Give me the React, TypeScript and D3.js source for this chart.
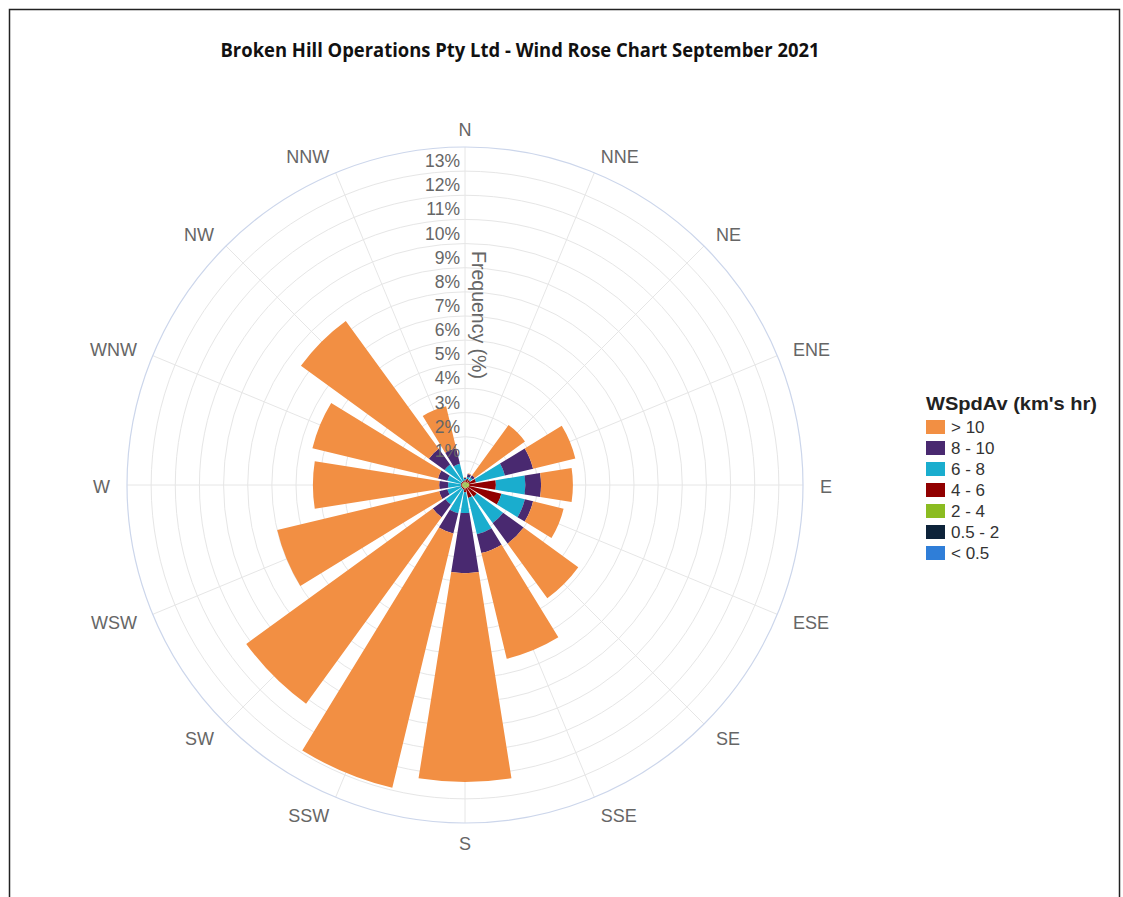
import React from 'react';
import * as d3 from 'd3';

// --- data (frequency %) ---
const directions = ['N', 'NNE', 'NE', 'ENE', 'E', 'ESE', 'SE', 'SSE', 'S', 'SSW', 'SW', 'WSW', 'W', 'WNW', 'NW', 'NNW'];
const speedBins = ['< 0.5', '0.5 - 2', '2 - 4', '4 - 6', '6 - 8', '8 - 10', '> 10'];
const binColors = ['#2f7ed8', '#0d233a', '#8bbc21', '#910000', '#1aadce', '#492970', '#f28f43'];

const lessThan05 = [0, 0, 0, 0, 0, 0, 0, 0, 0, 0, 0, 0, 0, 0, 0, 0];
const from05to2 = [0.02, 0.02, 0.02, 0.02, 0.02, 0.02, 0.02, 0.02, 0.02, 0.02, 0.02, 0.02, 0.02, 0.02, 0.02, 0.02];
const from2to4 = [0.1, 0.1, 0.12, 0.15, 0.15, 0.15, 0.12, 0.12, 0.12, 0.1, 0.1, 0.1, 0.1, 0.1, 0.1, 0.1];
const from4to6 = [0.08, 0.15, 0.12, 0.3, 1.11, 1.38, 0.46, 0.41, 0.16, 0.08, 0.05, 0.05, 0.05, 0.05, 0.05, 0.05];
const from6to8 = [0.05, 0.08, 0.12, 1.23, 1.22, 1.0, 1.35, 1.55, 0.86, 1.0, 0.83, 0.58, 0.53, 0.58, 0.88, 0.73];
const from8to10 = [0.05, 0.12, 0.12, 1.2, 0.65, 0.35, 1.05, 0.8, 2.49, 0.87, 0.65, 0.35, 0.37, 0.4, 0.8, 0.67];
const over10 = [0.02, 0.03, 2.57, 1.8, 1.32, 1.3, 2.8, 4.5, 8.65, 10.83, 9.55, 6.9, 5.23, 5.35, 6.55, 1.78];

const freqTicks = [1, 2, 3, 4, 5, 6, 7, 8, 9, 10, 11, 12, 13];

const title = 'Broken Hill Operations Pty Ltd - Wind Rose Chart September 2021';
const legendTitle = "WSpdAv (km's hr)";

const W = 1123;
const H = 897;
const cx = 465;
const cy = 485;
const outerR = 338;
const maxFreq = 14;
const font = '"Liberation Sans", Arial, sans-serif';

const App: React.FC = () => {
	const seriesArrays = [lessThan05, from05to2, from2to4, from4to6, from6to8, from8to10, over10];
	const rows = directions.map((dir, i) => {
		const row: Record<string, number | string> = { dir };
		speedBins.forEach((bin, j) => {
			row[bin] = seriesArrays[j][i];
		});
		return row;
	});

	const stacked = d3.stack<Record<string, number | string>>().keys(speedBins)(rows as any);

	const r = d3.scaleLinear().domain([0, maxFreq]).range([0, outerR]);
	const angle = d3
		.scaleBand<string>()
		.domain(directions)
		.range([-Math.PI / directions.length, 2 * Math.PI - Math.PI / directions.length])
		.paddingInner(0.2)
		.paddingOuter(0.1);

	const arc = d3.arc<any>();
	const step = (2 * Math.PI) / directions.length;

	return (
		<svg
			width={W}
			height={H}
			style={{ position: 'absolute', left: 0, top: 0, background: '#fff' }}
			fontFamily={font}>
			<rect x={9.5} y={9.5} width={1110} height={900} fill="#fff" stroke="#222" strokeWidth={1.5} />

			<text
				x={520}
				y={57}
				textAnchor="middle"
				fontFamily='"Open Sans", "Liberation Sans", sans-serif'
				fontWeight="bold"
				fontSize={19}
				fill="#111"
				textLength={599}
				lengthAdjust="spacingAndGlyphs">
				{title}
			</text>

			<g transform={`translate(${cx},${cy})`}>
				{/* grid circles */}
				{freqTicks.map((t) => (
					<circle key={t} r={r(t)} fill="none" stroke="#e6e6e6" strokeWidth={1} />
				))}
				{/* spokes */}
				{directions.map((d, i) => {
					const a = i * step;
					return (
						<line
							key={d}
							x1={0}
							y1={0}
							x2={outerR * Math.sin(a)}
							y2={-outerR * Math.cos(a)}
							stroke="#e6e6e6"
							strokeWidth={1}
						/>
					);
				})}
				<circle r={r(maxFreq)} fill="none" stroke="#ccd6eb" strokeWidth={1.2} />

				{/* bars */}
				{stacked.map((layer, j) => (
					<g key={layer.key} fill={binColors[j]}>
						{layer.map((seg, i) => {
							if (seg[1] - seg[0] <= 0) return null;
							const a0 = angle(directions[i]) as number;
							return (
								<path
									key={i}
									d={
										arc({
											innerRadius: r(seg[0]),
											outerRadius: r(seg[1]),
											startAngle: a0,
											endAngle: a0 + angle.bandwidth(),
										}) as string
									}
								/>
							);
						})}
					</g>
				))}

				{/* y axis labels */}
				{freqTicks.map((t) => (
					<text key={t} x={-5} y={-r(t) - 4} textAnchor="end" fontSize={17.5} fill="#666">
						{t}%
					</text>
				))}
				<text
					transform={`translate(7,${-outerR / 2 - 1}) rotate(90)`}
					textAnchor="middle"
					fontSize={19.5}
					fill="#666">
					Frequency (%)
				</text>

				{/* direction labels */}
				{directions.map((d, i) => {
					const a = i * step;
					const lr = 355;
					const sx = Math.sin(a);
					const anchor = Math.abs(sx) < 0.01 ? 'middle' : sx > 0 ? 'start' : 'end';
					return (
						<text
							key={d}
							x={lr * sx}
							y={-lr * Math.cos(a) + 1.8 * (1 - Math.cos(a))}
							textAnchor={anchor}
							dominantBaseline="central"
							fontSize={18}
							fill="#666">
							{d}
						</text>
					);
				})}
			</g>

			{/* legend */}
			<g transform="translate(926,0)">
				<text
					x={0}
					y={410}
					fontSize={19}
					fontWeight="bold"
					fill="#222"
					textLength={171}
					lengthAdjust="spacingAndGlyphs">
					{legendTitle}
				</text>
				{speedBins
					.map((bin, j) => ({ bin, color: binColors[j] }))
					.reverse()
					.map((item, k) => (
						<g key={item.bin} transform={`translate(0,${427 + k * 21})`}>
							<rect x={0} y={-7} width={19} height={14} fill={item.color} />
							<text x={25} y={0} dominantBaseline="central" fontSize={17} fill="#333">
								{item.bin}
							</text>
						</g>
					))}
			</g>
		</svg>
	);
};

export default App;
